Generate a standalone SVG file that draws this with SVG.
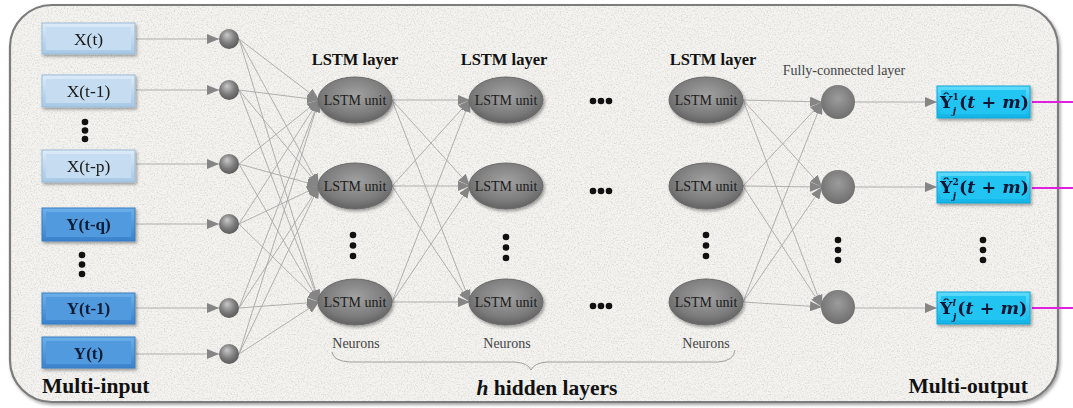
<svg xmlns="http://www.w3.org/2000/svg" width="1073" height="408" viewBox="0 0 1073 408">
  <defs>
    <style>
      text { font-family: "Liberation Serif", "Times New Roman", Tinos, "DejaVu Serif", serif; }
      .xin { font-size: 17.5px; fill: #1a1a1a; text-anchor: middle; }
      .yin { font-size: 17px; font-weight: bold; fill: #0d1a33; text-anchor: middle; }
      .unit { font-size: 14px; fill: #1c1c1c; text-anchor: middle; }
      .layer { font-size: 16.5px; font-weight: bold; fill: #111; text-anchor: middle; }
      .small { font-size: 14px; fill: #444; text-anchor: middle; }
      .big { font-size: 21.5px; font-weight: bold; fill: #111; }
      .out { font-family: "DejaVu Serif", "Liberation Serif", serif; font-size: 17.5px; font-weight: bold; fill: #0b1533; }
      .scr { font-size: 9px; }
      .wire { stroke: #a8a8a8; stroke-width: 0.9; fill: none; marker-end: url(#wedge); }
      .dot { fill: #111; }
      .mag { stroke: #e21ee0; stroke-width: 2; }
    </style>
    <marker id="wedge" viewBox="0 0 12 10" refX="12" refY="5" markerWidth="12" markerHeight="10" markerUnits="userSpaceOnUse" orient="auto">
      <path d="M0,0 L12,5 L0,10 z" fill="#858585"/>
    </marker>
    <filter id="grain" x="0" y="0" width="100%" height="100%">
      <feTurbulence type="fractalNoise" baseFrequency="0.7" numOctaves="3" seed="7" result="n"/>
      <feColorMatrix in="n" type="matrix" values="0 0 0 0 0.6  0 0 0 0 0.6  0 0 0 0 0.58  3 0 0 0 -1.35" result="spk"/>
      <feComposite in="spk" in2="SourceGraphic" operator="in"/>
    </filter>
    <filter id="shadow" x="-10%" y="-10%" width="120%" height="130%">
      <feDropShadow dx="1.5" dy="2" stdDeviation="1.5" flood-color="#000" flood-opacity="0.35"/>
    </filter>
    <linearGradient id="xbox" x1="0" y1="0" x2="0" y2="1">
      <stop offset="0" stop-color="#dcebf8"/>
      <stop offset="1" stop-color="#a6c8e6"/>
    </linearGradient>
    <linearGradient id="ybox" x1="0" y1="0" x2="0" y2="1">
      <stop offset="0" stop-color="#6cb0ea"/>
      <stop offset="1" stop-color="#3a82cc"/>
    </linearGradient>
    <linearGradient id="obox" x1="0" y1="0" x2="0" y2="1">
      <stop offset="0" stop-color="#5fdcff"/>
      <stop offset="1" stop-color="#10b4e6"/>
    </linearGradient>
    <radialGradient id="sphere" cx="45%" cy="40%" r="60%" fx="40%" fy="30%">
      <stop offset="0" stop-color="#c9c9c9"/>
      <stop offset="0.6" stop-color="#7d7d7d"/>
      <stop offset="1" stop-color="#5a5a5a"/>
    </radialGradient>
    <radialGradient id="cell" cx="50%" cy="40%" r="60%">
      <stop offset="0" stop-color="#a2a2a2"/>
      <stop offset="0.7" stop-color="#7c7c7c"/>
      <stop offset="1" stop-color="#626262"/>
    </radialGradient>
    <radialGradient id="fc" cx="50%" cy="40%" r="60%">
      <stop offset="0" stop-color="#9c9c9c"/>
      <stop offset="1" stop-color="#6e6e6e"/>
    </radialGradient>
  </defs>

  <!-- panel -->
  <g id="panel">
    <rect x="10" y="5" width="1048" height="397" rx="42" ry="42" fill="#f4f3f0" stroke="#7b7b7b" stroke-width="2.2" filter="url(#shadow)"/>
    <rect x="11" y="6" width="1046" height="395" rx="41" ry="41" fill="#fff" filter="url(#grain)" opacity="0.55"/>
  </g>

  <!-- connectors -->
  <g id="connectors">
    <!-- inputs to input neurons -->
    <line class="wire" x1="136" y1="39" x2="219" y2="39"/>
    <line class="wire" x1="136" y1="90" x2="219" y2="90"/>
    <line class="wire" x1="136" y1="164" x2="219" y2="164"/>
    <line class="wire" x1="136" y1="224" x2="219" y2="224"/>
    <line class="wire" x1="136" y1="308" x2="219" y2="308"/>
    <line class="wire" x1="136" y1="354" x2="219" y2="354"/>

    <!-- input neurons to first LSTM layer -->
    <path class="wire" d="M239,39 L319,100"/><path class="wire" d="M239,39 L319,186"/><path class="wire" d="M239,39 L319,302"/>
    <path class="wire" d="M239,90 L319,100"/><path class="wire" d="M239,90 L319,186"/><path class="wire" d="M239,90 L319,302"/>
    <path class="wire" d="M239,164 L319,100"/><path class="wire" d="M239,164 L319,186"/><path class="wire" d="M239,164 L319,302"/>
    <path class="wire" d="M239,224 L319,100"/><path class="wire" d="M239,224 L319,186"/><path class="wire" d="M239,224 L319,302"/>
    <path class="wire" d="M239,308 L319,100"/><path class="wire" d="M239,308 L319,186"/><path class="wire" d="M239,308 L319,302"/>
    <path class="wire" d="M239,354 L319,100"/><path class="wire" d="M239,354 L319,186"/><path class="wire" d="M239,354 L319,302"/>

    <!-- first to second LSTM layer -->
    <path class="wire" d="M392,100 L470,100"/><path class="wire" d="M392,100 L470,186"/><path class="wire" d="M392,100 L470,302"/>
    <path class="wire" d="M392,186 L470,100"/><path class="wire" d="M392,186 L470,186"/><path class="wire" d="M392,186 L470,302"/>
    <path class="wire" d="M392,302 L470,100"/><path class="wire" d="M392,302 L470,186"/><path class="wire" d="M392,302 L470,302"/>

    <!-- last LSTM layer to fully-connected layer -->
    <path class="wire" d="M743,100 L822,102"/><path class="wire" d="M743,100 L822,187"/><path class="wire" d="M743,100 L822,307"/>
    <path class="wire" d="M743,186 L822,102"/><path class="wire" d="M743,186 L822,187"/><path class="wire" d="M743,186 L822,307"/>
    <path class="wire" d="M743,302 L822,102"/><path class="wire" d="M743,302 L822,187"/><path class="wire" d="M743,302 L822,307"/>

    <!-- fully-connected to outputs -->
    <line class="wire" x1="855" y1="102" x2="937" y2="102"/>
    <line class="wire" x1="855" y1="187" x2="937" y2="187"/>
    <line class="wire" x1="855" y1="308" x2="937" y2="308"/>

    <!-- output leads -->
    <line class="mag" x1="1032" y1="102" x2="1073" y2="102"/>
    <line class="mag" x1="1032" y1="188" x2="1073" y2="188"/>
    <line class="mag" x1="1032" y1="308" x2="1073" y2="308"/>
  </g>

  <!-- input boxes -->
  <g id="in-xt" filter="url(#shadow)">
    <rect x="42" y="23" width="93" height="31" fill="url(#xbox)" stroke="#9bbbd8" stroke-width="1"/>
    <rect x="46" y="27" width="85" height="23" fill="#c6dcf0"/>
    <text class="xin" x="88.5" y="45">X(t)</text>
  </g>
  <g id="in-xt1" filter="url(#shadow)">
    <rect x="42" y="75" width="93" height="32" fill="url(#xbox)" stroke="#9bbbd8" stroke-width="1"/>
    <rect x="46" y="79" width="85" height="24" fill="#c6dcf0"/>
    <text class="xin" x="88.5" y="97">X(t-1)</text>
  </g>
  <g id="in-xtp" filter="url(#shadow)">
    <rect x="42" y="150" width="93" height="32" fill="url(#xbox)" stroke="#9bbbd8" stroke-width="1"/>
    <rect x="46" y="154" width="85" height="24" fill="#c6dcf0"/>
    <text class="xin" x="88.5" y="172">X(t-p)</text>
  </g>
  <g id="in-ytq" filter="url(#shadow)">
    <rect x="42" y="208" width="93" height="33" fill="url(#ybox)" stroke="#3a7cc0" stroke-width="1"/>
    <rect x="46" y="212" width="85" height="25" fill="#519ade"/>
    <text class="yin" x="88.5" y="230">Y(t-q)</text>
  </g>
  <g id="in-yt1" filter="url(#shadow)">
    <rect x="42" y="293" width="93" height="31" fill="url(#ybox)" stroke="#3a7cc0" stroke-width="1"/>
    <rect x="46" y="297" width="85" height="23" fill="#519ade"/>
    <text class="yin" x="88.5" y="314">Y(t-1)</text>
  </g>
  <g id="in-yt" filter="url(#shadow)">
    <rect x="42" y="337" width="93" height="31" fill="url(#ybox)" stroke="#3a7cc0" stroke-width="1"/>
    <rect x="46" y="341" width="85" height="23" fill="#519ade"/>
    <text class="yin" x="88.5" y="359">Y(t)</text>
  </g>

  <!-- input neurons -->
  <g id="n-in">
    <circle cx="229" cy="39" r="10" fill="url(#sphere)"/>
    <circle cx="229" cy="90" r="10" fill="url(#sphere)"/>
    <circle cx="229" cy="164" r="10" fill="url(#sphere)"/>
    <circle cx="229" cy="224" r="10" fill="url(#sphere)"/>
    <circle cx="229" cy="308" r="10" fill="url(#sphere)"/>
    <circle cx="229" cy="354" r="10" fill="url(#sphere)"/>
  </g>

  <!-- LSTM layer 1 -->
  <g id="lstm1">
    <text class="layer" x="355" y="65">LSTM layer</text>
    <g filter="url(#shadow)">
      <ellipse cx="355" cy="100" rx="37" ry="23" fill="url(#cell)" stroke="#6a6a6a"/>
      <ellipse cx="355" cy="186" rx="37" ry="23" fill="url(#cell)" stroke="#6a6a6a"/>
      <ellipse cx="355" cy="302" rx="37" ry="23" fill="url(#cell)" stroke="#6a6a6a"/>
    </g>
    <text class="unit" x="355" y="105">LSTM unit</text>
    <text class="unit" x="355" y="191">LSTM unit</text>
    <text class="unit" x="355" y="307">LSTM unit</text>
    <text class="small" x="356" y="348">Neurons</text>
  </g>

  <!-- LSTM layer 2 -->
  <g id="lstm2">
    <text class="layer" x="504" y="65">LSTM layer</text>
    <g filter="url(#shadow)">
      <ellipse cx="506" cy="100" rx="37" ry="23" fill="url(#cell)" stroke="#6a6a6a"/>
      <ellipse cx="506" cy="186" rx="37" ry="23" fill="url(#cell)" stroke="#6a6a6a"/>
      <ellipse cx="506" cy="302" rx="37" ry="23" fill="url(#cell)" stroke="#6a6a6a"/>
    </g>
    <text class="unit" x="506" y="105">LSTM unit</text>
    <text class="unit" x="506" y="191">LSTM unit</text>
    <text class="unit" x="506" y="307">LSTM unit</text>
    <text class="small" x="507" y="348">Neurons</text>
  </g>

  <!-- LSTM layer h -->
  <g id="lstm3">
    <text class="layer" x="713" y="65">LSTM layer</text>
    <g filter="url(#shadow)">
      <ellipse cx="706" cy="100" rx="37" ry="23" fill="url(#cell)" stroke="#6a6a6a"/>
      <ellipse cx="706" cy="186" rx="37" ry="23" fill="url(#cell)" stroke="#6a6a6a"/>
      <ellipse cx="706" cy="302" rx="37" ry="23" fill="url(#cell)" stroke="#6a6a6a"/>
    </g>
    <text class="unit" x="706" y="105">LSTM unit</text>
    <text class="unit" x="706" y="191">LSTM unit</text>
    <text class="unit" x="706" y="307">LSTM unit</text>
    <text class="small" x="706" y="348">Neurons</text>
  </g>

  <!-- fully-connected layer -->
  <g id="fc-layer">
    <text class="small" x="844" y="75">Fully-connected layer</text>
    <circle cx="838" cy="102" r="17" fill="url(#fc)"/>
    <circle cx="838" cy="187" r="17" fill="url(#fc)"/>
    <circle cx="838" cy="307" r="17" fill="url(#fc)"/>
  </g>

  <!-- output boxes: hat-Y with stacked super/subscript -->
  <g id="out1" filter="url(#shadow)">
    <rect x="937" y="86" width="93" height="32" fill="url(#obox)" stroke="#0fa6d6"/>
    <rect x="941" y="90" width="85" height="24" fill="#22c4f2"/>
    <text class="out" x="940" y="108">Ŷ<tspan class="scr" dy="-8">1</tspan><tspan class="scr" font-style="italic" dx="-6" dy="14">j</tspan><tspan dx="3" dy="-6">(</tspan><tspan font-style="italic">t</tspan> + <tspan font-style="italic">m</tspan>)</text>
  </g>
  <g id="out2" filter="url(#shadow)">
    <rect x="937" y="172" width="93" height="31" fill="url(#obox)" stroke="#0fa6d6"/>
    <rect x="941" y="176" width="85" height="23" fill="#22c4f2"/>
    <text class="out" x="940" y="193">Ŷ<tspan class="scr" dy="-8">2</tspan><tspan class="scr" font-style="italic" dx="-6" dy="14">j</tspan><tspan dx="3" dy="-6">(</tspan><tspan font-style="italic">t</tspan> + <tspan font-style="italic">m</tspan>)</text>
  </g>
  <g id="out3" filter="url(#shadow)">
    <rect x="937" y="292" width="93" height="32" fill="url(#obox)" stroke="#0fa6d6"/>
    <rect x="941" y="296" width="85" height="24" fill="#22c4f2"/>
    <text class="out" x="940" y="314">Ŷ<tspan class="scr" font-style="italic" dy="-8">l</tspan><tspan class="scr" font-style="italic" dx="-3" dy="14">j</tspan><tspan dx="1" dy="-6">(</tspan><tspan font-style="italic">t</tspan> + <tspan font-style="italic">m</tspan>)</text>
  </g>

  <!-- ellipsis dots -->
  <g id="ellipses">
    <circle class="dot" cx="85" cy="122" r="3.3"/><circle class="dot" cx="85" cy="130.5" r="3.3"/><circle class="dot" cx="85" cy="139" r="3.3"/>
    <circle class="dot" cx="82" cy="255" r="3.3"/><circle class="dot" cx="82" cy="264.5" r="3.3"/><circle class="dot" cx="82" cy="274" r="3.3"/>
    <circle class="dot" cx="353" cy="235" r="3.3"/><circle class="dot" cx="353" cy="245.5" r="3.3"/><circle class="dot" cx="353" cy="256" r="3.3"/>
    <circle class="dot" cx="506" cy="237" r="3.3"/><circle class="dot" cx="506" cy="247.5" r="3.3"/><circle class="dot" cx="506" cy="258" r="3.3"/>
    <circle class="dot" cx="706" cy="235" r="3.3"/><circle class="dot" cx="706" cy="245.5" r="3.3"/><circle class="dot" cx="706" cy="256" r="3.3"/>
    <circle class="dot" cx="838" cy="240" r="3.3"/><circle class="dot" cx="838" cy="250" r="3.3"/><circle class="dot" cx="838" cy="260" r="3.3"/>
    <circle class="dot" cx="983" cy="240" r="3.3"/><circle class="dot" cx="983" cy="250" r="3.3"/><circle class="dot" cx="983" cy="260" r="3.3"/>
    <circle class="dot" cx="593" cy="101" r="3.3"/><circle class="dot" cx="601" cy="101" r="3.3"/><circle class="dot" cx="609" cy="101" r="3.3"/>
    <circle class="dot" cx="593" cy="191" r="3.3"/><circle class="dot" cx="601" cy="191" r="3.3"/><circle class="dot" cx="609" cy="191" r="3.3"/>
    <circle class="dot" cx="593" cy="306" r="3.3"/><circle class="dot" cx="601" cy="306" r="3.3"/><circle class="dot" cx="609" cy="306" r="3.3"/>
  </g>

  <!-- brace spanning the hidden layers -->
  <g id="brace">
    <path d="M332,352 Q333,361 350,362 L515,362 Q528,363 531,370 Q534,363 547,362 L718,362 Q734,361 735,350" fill="none" stroke="#a0a0a0" stroke-width="1"/>
    <text class="big" x="547" y="395" text-anchor="middle"><tspan font-style="italic">h</tspan> hidden layers</text>
  </g>

  <!-- captions -->
  <text class="big" x="42" y="393">Multi-input</text>
  <text class="big" x="1028" y="393" text-anchor="end">Multi-output</text>
</svg>
